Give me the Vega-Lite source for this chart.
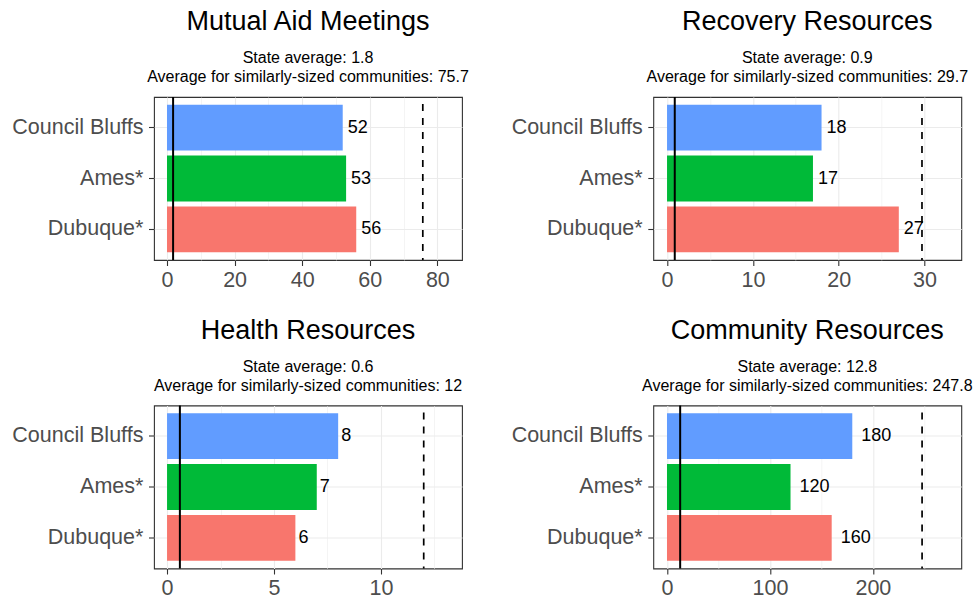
{
  "$schema": "https://vega.github.io/schema/vega-lite/v6.json",
  "padding": {"left": 11, "top": 7, "right": 0, "bottom": 0},
  "background": "white",
  "datasets": {
    "bars": [
      {"metric": "Mutual Aid Meetings", "city": "Council Bluffs", "value": 52},
      {"metric": "Mutual Aid Meetings", "city": "Ames*", "value": 53},
      {"metric": "Mutual Aid Meetings", "city": "Dubuque*", "value": 56},
      {"metric": "Recovery Resources", "city": "Council Bluffs", "value": 18},
      {"metric": "Recovery Resources", "city": "Ames*", "value": 17},
      {"metric": "Recovery Resources", "city": "Dubuque*", "value": 27},
      {"metric": "Health Resources", "city": "Council Bluffs", "value": 8},
      {"metric": "Health Resources", "city": "Ames*", "value": 7},
      {"metric": "Health Resources", "city": "Dubuque*", "value": 6},
      {"metric": "Community Resources", "city": "Council Bluffs", "value": 180},
      {"metric": "Community Resources", "city": "Ames*", "value": 120},
      {"metric": "Community Resources", "city": "Dubuque*", "value": 160}
    ],
    "refs": [
      {"metric": "Mutual Aid Meetings", "state": 1.8, "similar": 75.7},
      {"metric": "Recovery Resources", "state": 0.9, "similar": 29.7},
      {"metric": "Health Resources", "state": 0.6, "similar": 12},
      {"metric": "Community Resources", "state": 12.8, "similar": 247.8}
    ]
  },
  "config": {
    "font": "Liberation Sans",
    "view": {"stroke": "#333333", "strokeWidth": 1.1},
    "title": {
      "font": "Liberation Sans",
      "fontSize": 27,
      "fontWeight": "normal",
      "color": "black",
      "anchor": "middle",
      "frame": "group",
      "subtitleFont": "Liberation Sans",
      "subtitleFontSize": 16,
      "subtitleColor": "black",
      "subtitleLineHeight": 19,
      "subtitlePadding": 14,
      "offset": 10
    },
    "axis": {
      "labelFont": "Liberation Sans",
      "labelFontSize": 21.5,
      "labelColor": "#4D4D4D",
      "tickColor": "#333333",
      "tickSize": 5.5,
      "tickWidth": 1.1,
      "labelPadding": 3.5,
      "gridColor": "#EBEBEB",
      "gridWidth": 1.1,
      "domain": false,
      "title": null
    },
    "axisY": {"labelPadding": 5.6, "bandPosition": 0.5},
    "text": {"font": "Liberation Sans", "fontSize": 18, "color": "black", "align": "left", "baseline": "middle", "dx": 5}
  },
  "columns": 2,
  "bounds": "flush",
  "spacing": {"row": 145.5, "column": 191.3},
  "concat": [
    {
      "width": 308, "height": 163,
      "title": {"text": "Mutual Aid Meetings", "subtitle": ["State average: 1.8", "Average for similarly-sized communities: 75.7"]},
      "resolve": {"axis": {"x": "independent"}},
      "layer": [
        {
          "data": {"name": "bars"},
          "transform": [{"filter": "datum.metric === 'Mutual Aid Meetings'"}],
          "mark": {"type": "bar"},
          "encoding": {
            "x": {"field": "value", "type": "quantitative", "scale": {"domain": [-3.85, 87.3], "nice": false, "zero": false}, "axis": {"values": [0, 20, 40, 60, 80], "grid": true}},
            "y": {"field": "city", "type": "nominal", "sort": ["Council Bluffs", "Ames*", "Dubuque*"], "scale": {"paddingInner": 0.1, "paddingOuter": 0.15}, "axis": {"grid": true}},
            "color": {"field": "city", "type": "nominal", "scale": {"domain": ["Dubuque*", "Ames*", "Council Bluffs"], "range": ["#F8766D", "#00BA38", "#619CFF"]}, "legend": null}
          }
        },
        {
          "data": {"name": "bars"},
          "transform": [{"filter": "datum.metric === 'Mutual Aid Meetings'"}],
          "mark": {"type": "text"},
          "encoding": {
            "x": {"field": "value", "type": "quantitative", "axis": null},
            "y": {"field": "city", "type": "nominal", "sort": ["Council Bluffs", "Ames*", "Dubuque*"]},
            "text": {"field": "value", "type": "quantitative"}
          }
        },
        {
          "data": {"name": "refs"},
          "transform": [{"filter": "datum.metric === 'Mutual Aid Meetings'"}],
          "mark": {"type": "rule", "color": "black", "strokeWidth": 2},
          "encoding": {
            "x": {"field": "state", "type": "quantitative", "axis": {"values": [10, 30, 50, 70], "grid": true, "gridWidth": 0.55, "labels": false, "ticks": false, "domain": false}}
          }
        },
        {
          "data": {"name": "refs"},
          "transform": [{"filter": "datum.metric === 'Mutual Aid Meetings'"}],
          "mark": {"type": "rule", "color": "black", "strokeWidth": 1.7, "strokeDash": [7, 7], "strokeDashOffset": -7},
          "encoding": {
            "x": {"field": "similar", "type": "quantitative", "axis": null}
          }
        }
      ]
    },
    {
      "width": 308, "height": 163,
      "title": {"text": "Recovery Resources", "subtitle": ["State average: 0.9", "Average for similarly-sized communities: 29.7"]},
      "resolve": {"axis": {"x": "independent"}},
      "layer": [
        {
          "data": {"name": "bars"},
          "transform": [{"filter": "datum.metric === 'Recovery Resources'"}],
          "mark": {"type": "bar"},
          "encoding": {
            "x": {"field": "value", "type": "quantitative", "scale": {"domain": [-1.6, 34.28], "nice": false, "zero": false}, "axis": {"values": [0, 10, 20, 30], "grid": true}},
            "y": {"field": "city", "type": "nominal", "sort": ["Council Bluffs", "Ames*", "Dubuque*"], "scale": {"paddingInner": 0.1, "paddingOuter": 0.15}, "axis": {"grid": true}},
            "color": {"field": "city", "type": "nominal", "scale": {"domain": ["Dubuque*", "Ames*", "Council Bluffs"], "range": ["#F8766D", "#00BA38", "#619CFF"]}, "legend": null}
          }
        },
        {
          "data": {"name": "bars"},
          "transform": [{"filter": "datum.metric === 'Recovery Resources'"}],
          "mark": {"type": "text"},
          "encoding": {
            "x": {"field": "value", "type": "quantitative", "axis": null},
            "y": {"field": "city", "type": "nominal", "sort": ["Council Bluffs", "Ames*", "Dubuque*"]},
            "text": {"field": "value", "type": "quantitative"}
          }
        },
        {
          "data": {"name": "refs"},
          "transform": [{"filter": "datum.metric === 'Recovery Resources'"}],
          "mark": {"type": "rule", "color": "black", "strokeWidth": 2},
          "encoding": {
            "x": {"field": "state", "type": "quantitative", "axis": {"values": [5, 15, 25], "grid": true, "gridWidth": 0.55, "labels": false, "ticks": false, "domain": false}}
          }
        },
        {
          "data": {"name": "refs"},
          "transform": [{"filter": "datum.metric === 'Recovery Resources'"}],
          "mark": {"type": "rule", "color": "black", "strokeWidth": 1.7, "strokeDash": [7, 7], "strokeDashOffset": -7},
          "encoding": {
            "x": {"field": "similar", "type": "quantitative", "axis": null}
          }
        }
      ]
    },
    {
      "width": 308, "height": 163,
      "title": {"text": "Health Resources", "subtitle": ["State average: 0.6", "Average for similarly-sized communities: 12"]},
      "resolve": {"axis": {"x": "independent"}},
      "layer": [
        {
          "data": {"name": "bars"},
          "transform": [{"filter": "datum.metric === 'Health Resources'"}],
          "mark": {"type": "bar"},
          "encoding": {
            "x": {"field": "value", "type": "quantitative", "scale": {"domain": [-0.61, 13.79], "nice": false, "zero": false}, "axis": {"values": [0, 5, 10], "grid": true}},
            "y": {"field": "city", "type": "nominal", "sort": ["Council Bluffs", "Ames*", "Dubuque*"], "scale": {"paddingInner": 0.1, "paddingOuter": 0.15}, "axis": {"grid": true}},
            "color": {"field": "city", "type": "nominal", "scale": {"domain": ["Dubuque*", "Ames*", "Council Bluffs"], "range": ["#F8766D", "#00BA38", "#619CFF"]}, "legend": null}
          }
        },
        {
          "data": {"name": "bars"},
          "transform": [{"filter": "datum.metric === 'Health Resources'"}],
          "mark": {"type": "text", "dx": 3},
          "encoding": {
            "x": {"field": "value", "type": "quantitative", "axis": null},
            "y": {"field": "city", "type": "nominal", "sort": ["Council Bluffs", "Ames*", "Dubuque*"]},
            "text": {"field": "value", "type": "quantitative"}
          }
        },
        {
          "data": {"name": "refs"},
          "transform": [{"filter": "datum.metric === 'Health Resources'"}],
          "mark": {"type": "rule", "color": "black", "strokeWidth": 2},
          "encoding": {
            "x": {"field": "state", "type": "quantitative", "axis": {"values": [2.5, 7.5, 12.5], "grid": true, "gridWidth": 0.55, "labels": false, "ticks": false, "domain": false}}
          }
        },
        {
          "data": {"name": "refs"},
          "transform": [{"filter": "datum.metric === 'Health Resources'"}],
          "mark": {"type": "rule", "color": "black", "strokeWidth": 1.7, "strokeDash": [7, 7], "strokeDashOffset": -7},
          "encoding": {
            "x": {"field": "similar", "type": "quantitative", "axis": null}
          }
        }
      ]
    },
    {
      "width": 308, "height": 163,
      "title": {"text": "Community Resources", "subtitle": ["State average: 12.8", "Average for similarly-sized communities: 247.8"]},
      "resolve": {"axis": {"x": "independent"}},
      "layer": [
        {
          "data": {"name": "bars"},
          "transform": [{"filter": "datum.metric === 'Community Resources'"}],
          "mark": {"type": "bar"},
          "encoding": {
            "x": {"field": "value", "type": "quantitative", "scale": {"domain": [-13.3, 285.9], "nice": false, "zero": false}, "axis": {"values": [0, 100, 200], "grid": true}},
            "y": {"field": "city", "type": "nominal", "sort": ["Council Bluffs", "Ames*", "Dubuque*"], "scale": {"paddingInner": 0.1, "paddingOuter": 0.15}, "axis": {"grid": true}},
            "color": {"field": "city", "type": "nominal", "scale": {"domain": ["Dubuque*", "Ames*", "Council Bluffs"], "range": ["#F8766D", "#00BA38", "#619CFF"]}, "legend": null}
          }
        },
        {
          "data": {"name": "bars"},
          "transform": [{"filter": "datum.metric === 'Community Resources'"}],
          "mark": {"type": "text", "dx": 9},
          "encoding": {
            "x": {"field": "value", "type": "quantitative", "axis": null},
            "y": {"field": "city", "type": "nominal", "sort": ["Council Bluffs", "Ames*", "Dubuque*"]},
            "text": {"field": "value", "type": "quantitative"}
          }
        },
        {
          "data": {"name": "refs"},
          "transform": [{"filter": "datum.metric === 'Community Resources'"}],
          "mark": {"type": "rule", "color": "black", "strokeWidth": 2},
          "encoding": {
            "x": {"field": "state", "type": "quantitative", "axis": {"values": [50, 150, 250], "grid": true, "gridWidth": 0.55, "labels": false, "ticks": false, "domain": false}}
          }
        },
        {
          "data": {"name": "refs"},
          "transform": [{"filter": "datum.metric === 'Community Resources'"}],
          "mark": {"type": "rule", "color": "black", "strokeWidth": 1.7, "strokeDash": [7, 7], "strokeDashOffset": -7},
          "encoding": {
            "x": {"field": "similar", "type": "quantitative", "axis": null}
          }
        }
      ]
    }
  ]
}
